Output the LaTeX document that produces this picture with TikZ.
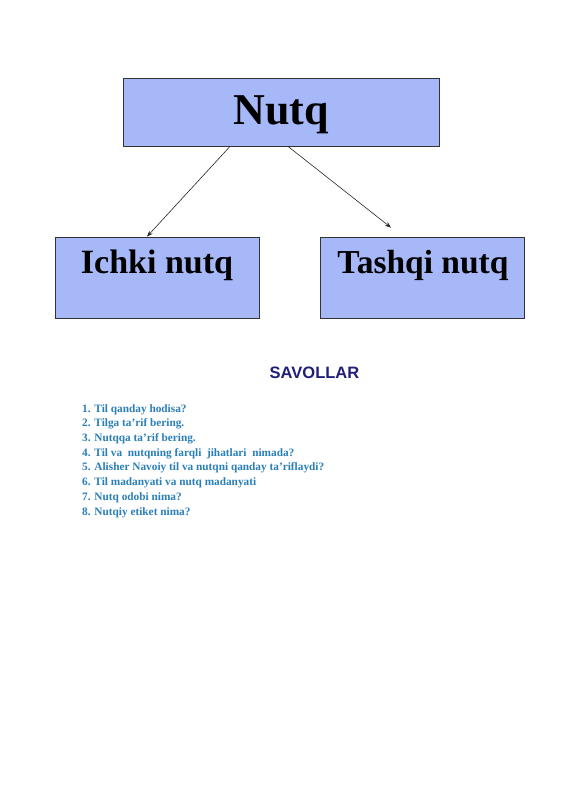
\documentclass[tikz,border=0pt]{standalone}
\usepackage{fontspec}
\setmainfont{Liberation Serif}
\newfontfamily\arialf{Liberation Sans}
\usetikzlibrary{arrows.meta,calc}
\definecolor{boxfill}{HTML}{A6B8F8}
\definecolor{navy}{HTML}{1F1F78}
\definecolor{qblue}{HTML}{2A7FB8}
\begin{document}
\begin{tikzpicture}[x=1pt,y=-1pt,
  box/.style={draw=black!80,line width=0.8pt,fill=boxfill,rectangle,inner sep=0pt},
  conn/.style={draw=black!85,line width=0.6pt,-{Stealth[length=6pt,width=4.5pt]}},
  qline/.style={anchor=base west,inner sep=0pt,text=qblue,font=\fontsize{11.3}{13}\selectfont\bfseries}]
\useasboundingbox[fill=white] (0,0) rectangle (565,800);
% boxes
\node[box,minimum width=316pt,minimum height=68pt] (nutq) at (281,112) {};
\node[box,minimum width=204pt,minimum height=81pt] (ichki) at (157,277.5) {};
\node[box,minimum width=204pt,minimum height=81pt] (tashqi) at (422,277.5) {};
% box texts
\node[anchor=base,inner sep=0pt,font=\fontsize{44}{48}\selectfont\bfseries] (tnutq) at (281,124) {Nutq};
\node[anchor=base,inner sep=0pt,font=\fontsize{34}{38}\selectfont\bfseries] (tichki) at (157,273) {Ichki nutq};
\node[anchor=base,inner sep=0pt,font=\fontsize{33.5}{38}\selectfont\bfseries] (ttashqi) at (423,273) {Tashqi nutq};
% connectors
\draw[conn] ($(nutq.south)+(-51,0)$) -- ($(ichki.north)+(-10,0)$);
\draw[conn] ($(nutq.south)+(7,0)$) -- ($(tashqi.north)+(-31,-9)$);
% questions
\node[anchor=base,inner sep=0pt,text=navy,font=\arialf\fontsize{16.5}{18}\selectfont\bfseries] (sav) at (314.5,378) {SAVOLLAR};
\node[qline] (q1) at (82,412) {1. Til qanday hodisa?};
\node[qline] (q2) at (82,426.7) {2. Tilga ta’rif bering.};
\node[qline] (q3) at (82,441.4) {3. Nutqqa ta’rif bering.};
\node[qline] (q4) at (82,456.1) {4. Til va\ \ nutqning farqli\ \ jihatlari\ \ nimada?};
\node[qline] (q5) at (82,470.9) {5. Alisher Navoiy til va nutqni qanday ta’riflaydi?};
\node[qline] (q6) at (82,485.6) {6. Til madanyati va nutq madanyati};
\node[qline] (q7) at (82,500.3) {7. Nutq odobi nima?};
\node[qline] (q8) at (82,515) {8. Nutqiy etiket nima?};
\end{tikzpicture}
\end{document}
